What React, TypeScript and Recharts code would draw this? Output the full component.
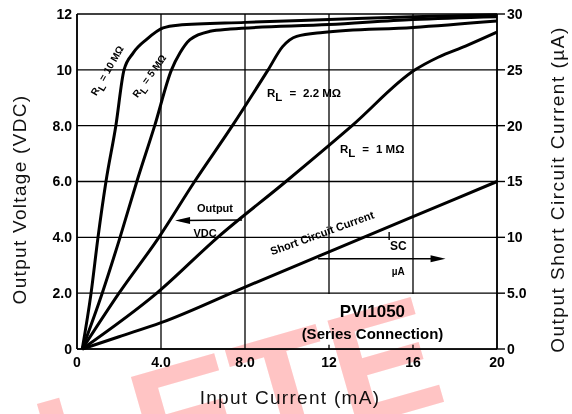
import React from 'react';
import {
  LineChart,
  Line,
  XAxis,
  YAxis,
  CartesianGrid,
  ReferenceArea,
  ReferenceLine,
  ReferenceDot,
} from 'recharts';

// ---- ticks ----
const xTicks = [0, 4, 8, 12, 16, 20];
const xTickLabels = ['0', '4.0', '8.0', '12', '16', '20'];
const vTicks = [0, 2, 4, 6, 8, 10, 12];
const vTickLabels = ['0', '2.0', '4.0', '6.0', '8.0', '10', '12'];
const iTicks = [0, 5, 10, 15, 20, 25, 30];
const iTickLabels = ['0', '5.0', '10', '15', '20', '25', '30'];

// ---- series: input current (mA) vs output voltage (VDC) ----
const rl10Current = [0.25, 0.67, 1.0, 1.38, 1.85, 2.24, 2.67, 3.33, 4.1, 4.8, 8, 12, 16, 20];
const rl10Voltage = [0, 2, 4, 6, 8, 10, 10.6, 11.1, 11.5, 11.6, 11.7, 11.8, 11.9, 11.97];

const rl5Current = [0.25, 1.2, 2.05, 2.85, 3.7, 4.5, 4.9, 5.38, 6.33, 7.3, 12, 16, 20];
const rl5Voltage = [0, 2, 4, 6, 8, 10, 10.6, 11.08, 11.38, 11.46, 11.62, 11.8, 11.9];

const rl22Current = [0.25, 2.0, 3.9, 5.6, 7.4, 9.1, 9.8, 10.46, 11.7, 16, 20];
const rl22Voltage = [0, 2, 4, 6, 8, 10, 10.84, 11.2, 11.34, 11.52, 11.75];

const rl1Current = [0.25, 3.8, 6.7, 9.95, 13.1, 16.1, 17.2, 18.5, 20];
const rl1Voltage = [0, 2, 4, 6, 8, 10, 10.45, 10.85, 11.35];

// ---- short circuit current (uA) ----
const iscCurrent = [0.25, 2, 4, 8, 12, 16, 20];
const iscMicroAmp = [0, 1.1, 2.36, 5.55, 8.7, 11.85, 15.0];

const zip = (xs: number[], ys: number[]) => xs.map((x, i) => ({ x, y: ys[i] }));

const voltageSeries = [
  { name: 'RL = 10 MΩ', data: zip(rl10Current, rl10Voltage) },
  { name: 'RL = 5 MΩ', data: zip(rl5Current, rl5Voltage) },
  { name: 'RL = 2.2 MΩ', data: zip(rl22Current, rl22Voltage) },
  { name: 'RL = 1 MΩ', data: zip(rl1Current, rl1Voltage) },
];
const iscData = zip(iscCurrent, iscMicroAmp);

const FONT = "'Liberation Sans', Arial, Helvetica, sans-serif";

const tickStyle = { fontSize: 14, fontWeight: 'bold', fill: '#000', fontFamily: FONT } as any;

// text annotation anchored at data coordinates
const textShape =
  (content: React.ReactNode, opts: { angle?: number; anchor?: string; size?: number; dy?: number } = {}) =>
  (p: any) => {
    const { cx, cy } = p;
    const angle = opts.angle ?? 0;
    return (
      <text
        x={cx}
        y={cy + (opts.dy ?? 0)}
        transform={angle ? `rotate(${angle} ${cx} ${cy})` : undefined}
        textAnchor={(opts.anchor as any) ?? 'middle'}
        fontFamily={FONT}
        fontWeight="bold"
        fontSize={opts.size ?? 11}
        fill="#000"
      >
        {content}
      </text>
    );
  };

const rl = (value: string, gap: number) => (
  <>
    <tspan>R</tspan>
    <tspan dy={4}>L</tspan>
    <tspan dy={-4} dx={gap}>=</tspan>
    <tspan dx={gap}>{value}</tspan>
  </>
);

const arrowHead = (dir: 'left' | 'right') => (p: any) => {
  const { cx, cy } = p;
  const s = dir === 'left' ? 1 : -1;
  return (
    <polygon
      points={`${cx},${cy} ${cx + s * 15},${cy - 3.5} ${cx + s * 15},${cy + 3.5}`}
      fill="#000"
    />
  );
};

const titleProps = { fontFamily: FONT, fontSize: 19, fill: '#111', letterSpacing: 1.3 } as any;

const LeftTitle = (props: any) => {
  const vb = props.viewBox || { x: 0, y: 14, width: 77, height: 335 };
  const x = vb.x + 19;
  const y = vb.y + vb.height / 2 + 18;
  return (
    <text x={x} y={y} transform={`rotate(-90 ${x} ${y})`} textAnchor="middle" dominantBaseline="central" {...titleProps}>
      Output Voltage (VDC)
    </text>
  );
};

const RightTitle = (props: any) => {
  const vb = props.viewBox || { x: 497, y: 14, width: 75, height: 335 };
  const x = vb.x + 60;
  const y = vb.y + vb.height / 2 + 8;
  return (
    <text x={x} y={y} transform={`rotate(-90 ${x} ${y})`} textAnchor="middle" dominantBaseline="central"
      {...titleProps} letterSpacing={1.5}>
      Output Short Circuit Current (µA)
    </text>
  );
};

const BottomTitle = (props: any) => {
  const vb = props.viewBox || { x: 77, y: 349, width: 420, height: 65 };
  const x = vb.x + vb.width / 2 + 3;
  const y = vb.y + 48;
  return (
    <text x={x} y={y} textAnchor="middle" dominantBaseline="central" {...titleProps}>
      Input Current (mA)
    </text>
  );
};

export default function App() {
  return (
    <div style={{ position: 'fixed', left: 0, top: 0, width: 572, height: 414, background: '#fff' }}>
      <LineChart width={572} height={414} margin={{ top: 14, right: 0, bottom: 0, left: 0 }}>
        <CartesianGrid yAxisId="left" stroke="#000" strokeWidth={1.3} strokeOpacity={1} />
        <XAxis
          type="number"
          dataKey="x"
          domain={[0, 20]}
          ticks={xTicks}
          tickFormatter={(v: number) => xTickLabels[xTicks.indexOf(v)] ?? String(v)}
          tick={tickStyle}
          tickLine={false}
          tickSize={5}
          tickMargin={3}
          axisLine={{ stroke: '#000', strokeWidth: 1.6 }}
          height={65}
          allowDataOverflow
          label={{ content: BottomTitle } as any}
        />
        <YAxis
          yAxisId="left"
          type="number"
          domain={[0, 12]}
          ticks={vTicks}
          tickFormatter={(v: number) => vTickLabels[vTicks.indexOf(v)] ?? String(v)}
          tick={tickStyle}
          tickLine={false}
          tickSize={3}
          tickMargin={2}
          axisLine={{ stroke: '#000', strokeWidth: 1.6 }}
          width={77}
          label={{ content: LeftTitle } as any}
        />
        <YAxis
          yAxisId="right"
          orientation="right"
          type="number"
          domain={[0, 30]}
          ticks={iTicks}
          tickFormatter={(v: number) => iTickLabels[iTicks.indexOf(v)] ?? String(v)}
          tick={tickStyle}
          tickLine={{ stroke: '#000', strokeWidth: 1.4 }}
          tickSize={8}
          tickMargin={2}
          axisLine={{ stroke: '#000', strokeWidth: 1.6 }}
          width={75}
          label={{ content: RightTitle } as any}
        />

        {/* white label box (grid interrupted) */}
        <ReferenceArea yAxisId="left" x1={8.05} x2={19.95} y1={0.03} y2={1.97} fill="#fff" fillOpacity={1} stroke="none" />
        <ReferenceLine yAxisId="left" segment={[{ x: 12, y: 0 }, { x: 12, y: 0.15 }]} stroke="#000" strokeWidth={1.3} />
        <ReferenceLine yAxisId="left" segment={[{ x: 16, y: 0 }, { x: 16, y: 0.15 }]} stroke="#000" strokeWidth={1.3} />

        {voltageSeries.map((s) => (
          <Line
            key={s.name}
            yAxisId="left"
            data={s.data}
            dataKey="y"
            type="monotone"
            stroke="#000"
            strokeWidth={3}
            dot={false}
            isAnimationActive={false}
          />
        ))}
        <Line
          yAxisId="right"
          data={iscData}
          dataKey="y"
          type="monotone"
          stroke="#000"
          strokeWidth={3}
          dot={false}
          isAnimationActive={false}
        />

        {/* arrows */}
        <ReferenceLine yAxisId="left" segment={[{ x: 4.9, y: 4.6 }, { x: 7.86, y: 4.62 }]} stroke="#000" strokeWidth={1.5} />
        <ReferenceDot yAxisId="left" x={4.67} y={4.6} r={0} shape={arrowHead('left')} />
        <ReferenceLine yAxisId="left" segment={[{ x: 11.48, y: 3.23 }, { x: 17.2, y: 3.23 }]} stroke="#000" strokeWidth={1.5} />
        <ReferenceDot yAxisId="left" x={17.55} y={3.23} r={0} shape={arrowHead('right')} />

        {/* annotations */}
        <ReferenceDot yAxisId="left" x={1.5} y={9.95} r={0} shape={textShape(rl('10 MΩ', 3), { angle: -60, dy: 2, size: 10 })} />
        <ReferenceDot yAxisId="left" x={3.5} y={9.75} r={0} shape={textShape(rl('5 MΩ', 3), { angle: -54, dy: 2, size: 10 })} />
        <ReferenceDot yAxisId="left" x={9.05} y={9.03} r={0} shape={textShape(rl('2.2 MΩ', 7), { anchor: 'start', size: 11.5 })} />
        <ReferenceDot yAxisId="left" x={12.52} y={7.02} r={0} shape={textShape(rl('1 MΩ', 7), { anchor: 'start', size: 11.5 })} />
        <ReferenceDot yAxisId="left" x={6.57} y={4.91} r={0} shape={textShape('Output', { size: 11 })} />
        <ReferenceDot yAxisId="left" x={6.1} y={4.01} r={0} shape={textShape('VDC', { size: 11 })} />
        <ReferenceDot yAxisId="left" x={11.67} y={4.16} r={0} shape={textShape('Short Circuit Current', { angle: -20, dy: 4 })} />
        <ReferenceDot yAxisId="left" x={14.8} y={3.9} r={0} shape={textShape('I', { anchor: 'start', size: 10 })} />
        <ReferenceDot yAxisId="left" x={14.9} y={3.56} r={0} shape={textShape('SC', { anchor: 'start', size: 12 })} />
        <ReferenceDot yAxisId="left" x={15.3} y={2.65} r={0} shape={textShape('µA', { size: 10 })} />
        <ReferenceDot yAxisId="left" x={14.07} y={1.15} r={0} shape={textShape('PVI1050', { size: 17 })} />
        <ReferenceDot yAxisId="left" x={14.07} y={0.36} r={0} shape={textShape('(Series Connection)', { size: 15 })} />
      </LineChart>

      {/* watermark */}
      <svg
        width={572}
        height={414}
        style={{ position: 'absolute', left: 0, top: 0, mixBlendMode: 'multiply', pointerEvents: 'none' }}
      >
        <text
          x={450}
          y={400}
          transform="rotate(-16 450 400)"
          textAnchor="end"
          fontFamily={FONT}
          fontWeight="bold"
          fontSize={160}
          fill="#ffc4c4"
        >
          OBSOLETE
        </text>
      </svg>
    </div>
  );
}
